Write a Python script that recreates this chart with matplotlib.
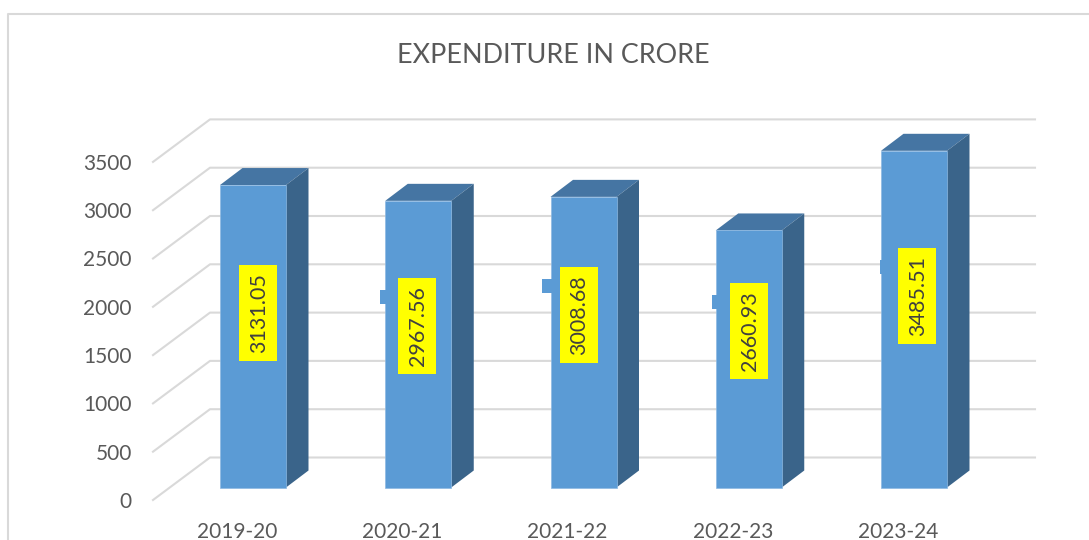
import matplotlib
matplotlib.use('Agg')
import matplotlib.pyplot as plt
from matplotlib.patches import Polygon, Rectangle

plt.rcParams['font.family'] = ['Lato', 'DejaVu Sans']

years = ['2019-20', '2020-21', '2021-22', '2022-23', '2023-24']
expenditure = [3131.05, 2967.56, 3008.68, 2660.93, 3485.51]
y_ticks = [0, 500, 1000, 1500, 2000, 2500, 3000, 3500]

W, H = 1089, 540
# pixels per unit, bar baseline
PX_X = 165.25
PX_Y = 0.0966
BASE_X, BASE_Y = 253, 487.5
BAR_W = 66 / PX_X
DEPTH_X = 22.5 / PX_X
DEPTH_Y = 17 / PX_Y
BACK_Y = 30 / PX_Y
FRONT_Y = 12.5 / PX_Y
LEFT = (153 - BASE_X) / PX_X
WALL = (210 - BASE_X) / PX_X
RIGHT = (1035 - BASE_X) / PX_X

TEXT = '#595959'
GRID = '#D9D9D9'
FRONT = '#5B9BD5'
TOP = '#4575A3'
SIDE = '#3A648A'

fig = plt.figure(figsize=(W / 100, H / 100), dpi=100)
ax = fig.add_axes([0, 0, 1, 1])
ax.set_xlim(-BASE_X / PX_X, (W - BASE_X) / PX_X)
ax.set_ylim(-(H - BASE_Y) / PX_Y, BASE_Y / PX_Y)
ax.axis('off')

# рамка
ax.plot([8 / W, 8 / W, 1], [0, 1 - 14 / H, 1 - 14 / H], transform=ax.transAxes,
        color=GRID, lw=1.5, solid_capstyle='butt')

# сітка
for v in y_ticks:
    ax.plot([LEFT, WALL, RIGHT], [v - FRONT_Y, v + BACK_Y, v + BACK_Y], color=GRID, lw=1.5, zorder=1)
    ax.text(-BASE_X / PX_X + 132 / PX_X, v - FRONT_Y - 2 / PX_Y, str(v), ha='right', va='center',
            fontsize=15, color=TEXT)

# стовпчики
for i, (year, val) in enumerate(zip(years, expenditure)):
    x0, x1 = i - BAR_W / 2, i + BAR_W / 2
    ax.add_patch(Polygon([(x0, val), (x1, val), (x1 + DEPTH_X, val + DEPTH_Y), (x0 + DEPTH_X, val + DEPTH_Y)],
                         fc=TOP, ec='none', zorder=2))
    ax.add_patch(Polygon([(x1, 0), (x1 + DEPTH_X, DEPTH_Y), (x1 + DEPTH_X, val + DEPTH_Y), (x1, val)],
                         fc=SIDE, ec='none', zorder=2))
    ax.add_patch(Rectangle((x0, 0), BAR_W, val, fc=FRONT, ec='#8DB9E2', lw=0.5, zorder=3))
    ax.text(i - 16 / PX_X, -(532 - BASE_Y) / PX_Y, year, ha='center', va='center', fontsize=15, color=TEXT)

# підписи: зміщення від центру стовпчика і від його вершини, px
label_dx = [5, -1, -5, 0, 3]
label_dy = [128, 125, 118, 101, 145]
key_x = [None, 386, 548, 718, 886]
key_y = [None, 297, 286, 302, 267]
for i, val in enumerate(expenditure):
    x = i + label_dx[i] / PX_X
    y = val - label_dy[i] / PX_Y
    ax.text(x + 1 / PX_X, y, f'{val:.2f}', rotation=90, ha='center', va='center', fontsize=15.5, color='#404040',
            zorder=6)
    ax.add_patch(Rectangle((x - 19 / PX_X, y - 48 / PX_Y), 38 / PX_X, 96 / PX_Y, fc='#FFFF00', ec='none', zorder=5))
    if key_x[i] is not None:
        ax.add_patch(Rectangle(((key_x[i] - 6 - BASE_X) / PX_X, (BASE_Y - key_y[i] - 7) / PX_Y), 14 / PX_X, 14 / PX_Y,
                               fc=FRONT, ec='none', zorder=4))

ax.text((553 - BASE_X) / PX_X, (BASE_Y - 56) / PX_Y, 'EXPENDITURE IN CRORE', ha='center', va='center',
        fontsize=19.4, color=TEXT)

fig.savefig('out.png', dpi=100)
